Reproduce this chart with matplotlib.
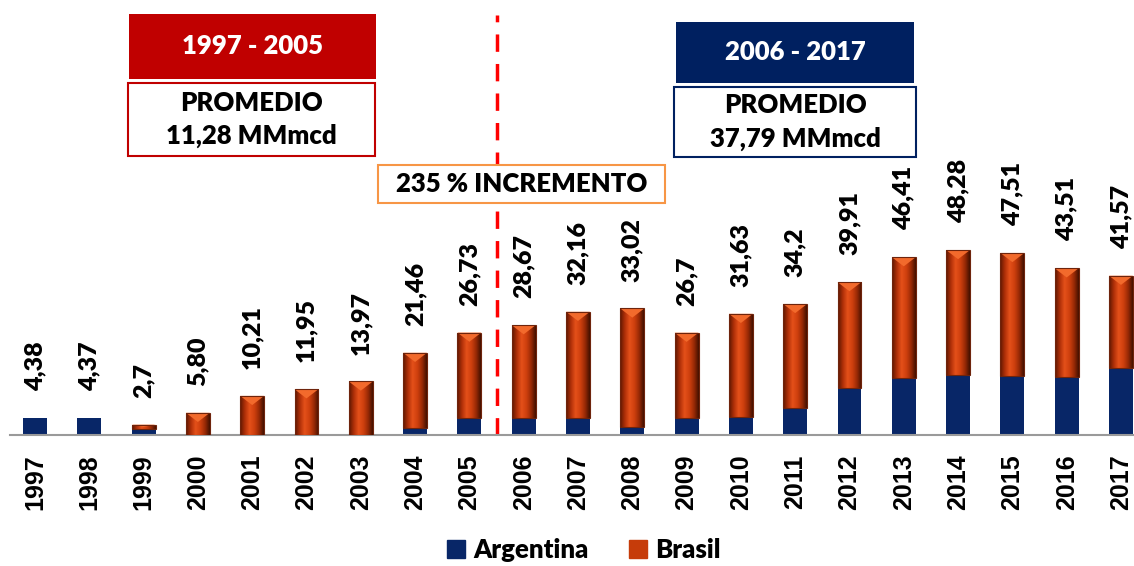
import numpy as np
import matplotlib.pyplot as plt
from matplotlib.patches import Rectangle, Polygon, Patch
from matplotlib.colors import LinearSegmentedColormap

years = ["1997", "1998", "1999", "2000", "2001", "2002", "2003", "2004", "2005", "2006", "2007",
         "2008", "2009", "2010", "2011", "2012", "2013", "2014", "2015", "2016", "2017"]
argentina = [4.38, 4.37, 1.5, 0, 0, 0, 0, 1.8, 4.4, 4.4, 4.4,
             2.2, 4.4, 4.6, 7.1, 12.2, 14.8, 15.7, 15.5, 15.2, 17.4]
brasil = [0, 0, 1.2, 5.80, 10.21, 11.95, 13.97, 19.66, 22.33, 24.27, 27.76,
          30.82, 22.3, 27.03, 27.1, 27.71, 31.61, 32.58, 32.01, 28.31, 24.17]
totals = [4.38, 4.37, 2.7, 5.80, 10.21, 11.95, 13.97, 21.46, 26.73, 28.67, 32.16,
          33.02, 26.7, 31.63, 34.2, 39.91, 46.41, 48.28, 47.51, 43.51, 41.57]
total_labels = ["4,38", "4,37", "2,7", "5,80", "10,21", "11,95", "13,97", "21,46", "26,73", "28,67", "32,16",
                "33,02", "26,7", "31,63", "34,2", "39,91", "46,41", "48,28", "47,51", "43,51", "41,57"]

W, H = 1134, 566
NAVY = "#082667"
RED_BOX = "#C00000"
BOX_NAVY = "#002060"
FONT = "Lato"
WEIGHT = "heavy"

fig = plt.figure(figsize=(W / 100, H / 100), dpi=100)
ax = fig.add_axes([10 / W, 1 - 435 / H, 1 - 10 / W, 435 / H])

x = np.arange(len(years))
width = 0.44
ax.bar(x, argentina, width, color=NAVY, zorder=2)
bars_br = ax.bar(x, brasil, width, bottom=argentina, color="#C63C0A", zorder=2)

# gradient look on the Brasil bars
cmap = LinearSegmentedColormap.from_list("br", ["#5e1702", "#b03008", "#e4501a", "#cf400e", "#9a2a06", "#441000"])
grad = np.linspace(0, 1, 64).reshape(1, -1)
for rect in bars_br:
    h = rect.get_height()
    if h <= 0:
        continue
    x0, y0 = rect.get_x(), rect.get_y()
    w = rect.get_width()
    im = ax.imshow(grad, cmap=cmap, extent=[x0, x0 + w, y0, y0 + h], aspect="auto", zorder=3)
    im.set_clip_path(rect)
    depth = min(2.4, h * 0.5)
    ax.add_patch(Polygon([[x0, y0 + h], [x0 + w, y0 + h], [x0 + w / 2, y0 + h - depth]],
                         closed=True, color="#f26a2c", zorder=4, lw=0))
    ax.add_patch(Rectangle((x0, y0), w, h, fill=False, ec="#6e240c", lw=0.8, zorder=5))

for xi, t, lab in zip(x, totals, total_labels):
    ax.text(xi, t + 7.0, lab, rotation=90, ha="center", va="bottom",
            fontsize=18, fontweight=WEIGHT, family=FONT, color="black")

ax.axvline(8.5, ymin=0, ymax=(435 - 15) / 435, color="#FF0000", lw=2.5, dashes=(5, 3.5), zorder=1)

ax.set_xlim(-0.46, 20.24)
ax.set_ylim(0, 435 / 3.832)
for s in ["top", "right", "left"]:
    ax.spines[s].set_visible(False)
ax.spines["bottom"].set_color("#9a9a9a")
ax.spines["bottom"].set_linewidth(1.5)
ax.set_yticks([])
ax.set_xticks(x)
ax.set_xticklabels(years, rotation=90, fontsize=18, fontweight="bold", family="Liberation Sans")
ax.tick_params(axis="x", length=0, pad=14)


def box(x0, y0, x1, y1, fc, ec, lw, text, color, size):
    fig.add_artist(Rectangle((x0 / W, 1 - y1 / H), (x1 - x0) / W, (y1 - y0) / H,
                             transform=fig.transFigure, fc=fc, ec=ec, lw=lw, zorder=10))
    fig.text((x0 + x1) / 2 / W, 1 - (y0 + y1) / 2 / H, text, ha="center", va="center",
             color=color, fontsize=size, fontweight=WEIGHT, family=FONT, zorder=11,
             linespacing=1.45)


box(129, 14, 376, 79, RED_BOX, RED_BOX, 0, "1997 - 2005", "white", 18.5)
box(128, 83, 375, 156, "white", RED_BOX, 1.5, "PROMEDIO\n11,28 MMmcd", "black", 18.5)
box(676, 22, 914, 83, BOX_NAVY, BOX_NAVY, 0, "2006 - 2017", "white", 18.5)
box(674, 87, 916, 157, "white", BOX_NAVY, 1.5, "PROMEDIO\n37,79 MMmcd", "black", 18.5)
box(378, 165, 665, 203, "white", "#F79646", 1.5, "235 % INCREMENTO", "black", 18.5)

handles = [Patch(color=NAVY, label="Argentina"), Patch(color="#C63C0A", label="Brasil")]
fig.legend(handles=handles, loc="center", bbox_to_anchor=(584 / W, 1 - 550 / H), ncol=2, frameon=False,
           prop={"family": FONT, "weight": WEIGHT, "size": 18.5}, handlelength=0.7, handleheight=0.7,
           handletextpad=0.3, columnspacing=1.6, borderpad=0.1)

fig.savefig("out.png", dpi=100)
